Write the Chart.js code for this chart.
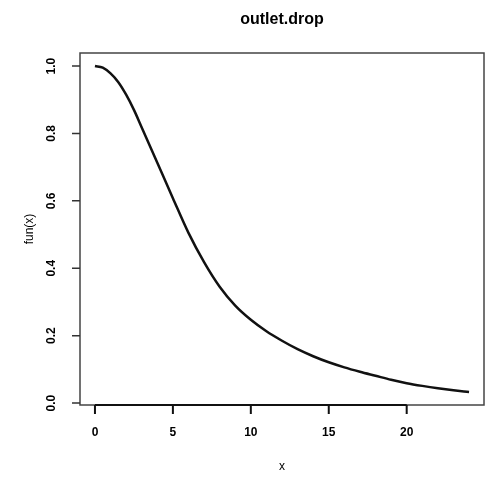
<!DOCTYPE html>
<html>
<head>
<meta charset="utf-8">
<script src="https://cdn.jsdelivr.net/npm/chart.js@4"></script>
<style>
  html, body { margin: 0; padding: 0; background: #fff; }
  #wrap { width: 486px; height: 480px; }
</style>
</head>
<body>
<div id="wrap"><canvas id="plot" width="486" height="480"></canvas></div>
<script>
// curve samples for outlet.drop
const xValues = [0, 0.5, 1, 1.5, 2, 2.5, 3, 4, 5, 6, 7, 8, 9, 10, 11, 12, 13, 14, 15, 16, 17, 18, 19, 20, 21, 22, 23, 24];
const funValues = [1.0, 0.995, 0.978, 0.952, 0.915, 0.87, 0.818, 0.713, 0.608, 0.505, 0.418, 0.345, 0.289, 0.247, 0.213, 0.185, 0.16, 0.139, 0.121, 0.106, 0.093, 0.081, 0.069, 0.059, 0.051, 0.044, 0.038, 0.033];

const xTicks = [0, 5, 10, 15, 20];
const xTickLabels = ['0', '5', '10', '15', '20'];
const yTicks = [0, 0.2, 0.4, 0.6, 0.8, 1.0];
const yTickLabels = ['0.0', '0.2', '0.4', '0.6', '0.8', '1.0'];

const mainTitle = 'outlet.drop';
const xTitle = 'x';
const yTitle = 'fun(x)';

const FONT = '"Liberation Sans", Arial, Helvetica, sans-serif';

// base-graphics style frame: box, axes, ticks, labels
const framePlugin = {
  id: 'frame',
  afterDraw(chart) {
    const { ctx, chartArea: a, scales } = chart;
    const xs = scales.x, ys = scales.y;
    ctx.save();

    // box
    ctx.strokeStyle = '#444';
    ctx.lineWidth = 1.5;
    ctx.strokeRect(a.left, a.top, a.right - a.left, a.bottom - a.top);

    // x axis line + ticks
    ctx.strokeStyle = '#111';
    ctx.lineWidth = 2;
    ctx.beginPath();
    ctx.moveTo(xs.getPixelForValue(xTicks[0]), a.bottom);
    ctx.lineTo(xs.getPixelForValue(xTicks[xTicks.length - 1]), a.bottom);
    xTicks.forEach(v => {
      const px = xs.getPixelForValue(v);
      ctx.moveTo(px, a.bottom);
      ctx.lineTo(px, a.bottom + 9);
    });
    ctx.stroke();

    // y axis ticks
    ctx.strokeStyle = '#333';
    ctx.lineWidth = 1.5;
    ctx.beginPath();
    yTicks.forEach(v => {
      const py = ys.getPixelForValue(v);
      ctx.moveTo(a.left, py);
      ctx.lineTo(a.left - 8, py);
    });
    ctx.stroke();

    ctx.fillStyle = '#000';
    ctx.textAlign = 'center';
    ctx.textBaseline = 'middle';

    // x tick labels
    ctx.font = 'bold 12px ' + FONT;
    xTicks.forEach((v, i) => {
      ctx.fillText(xTickLabels[i], xs.getPixelForValue(v), 433);
    });

    // y tick labels, rotated
    yTicks.forEach((v, i) => {
      ctx.save();
      ctx.translate(52, ys.getPixelForValue(v));
      ctx.rotate(-Math.PI / 2);
      ctx.fillText(yTickLabels[i], 0, 0);
      ctx.restore();
    });

    // axis titles
    ctx.font = '12px ' + FONT;
    ctx.fillText(xTitle, (a.left + a.right) / 2, 467);
    ctx.save();
    ctx.translate(30, (a.top + a.bottom) / 2);
    ctx.rotate(-Math.PI / 2);
    ctx.fillText(yTitle, 0, 0);
    ctx.restore();

    // main title
    ctx.font = 'bold 16px ' + FONT;
    ctx.fillText(mainTitle, (a.left + a.right) / 2, 20);

    ctx.restore();
  }
};

const points = xValues.map((x, i) => ({ x: x, y: funValues[i] }));

new Chart(document.getElementById('plot'), {
  type: 'line',
  data: {
    datasets: [{
      data: points,
      borderColor: '#111',
      borderWidth: 2.5,
      pointRadius: 0,
      fill: false,
      cubicInterpolationMode: 'monotone'
    }]
  },
  options: {
    responsive: false,
    animation: false,
    events: [],
    layout: { padding: { left: 80, right: 2, top: 53, bottom: 75 } },
    plugins: {
      legend: { display: false },
      tooltip: { enabled: false },
      title: { display: false }
    },
    scales: {
      x: { type: 'linear', display: false, min: -0.96, max: 24.96 },
      y: { type: 'linear', display: false, min: -0.0057, max: 1.0387 }
    }
  },
  plugins: [framePlugin]
});
</script>
</body>
</html>
